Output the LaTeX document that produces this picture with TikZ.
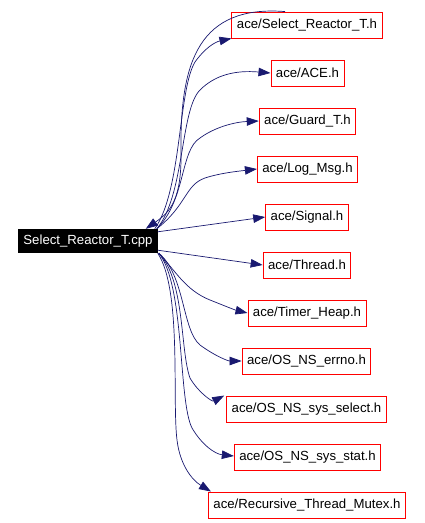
\documentclass[tikz,border=0pt]{standalone}
\usepackage{fontspec}
\setsansfont{Liberation Sans}
\usetikzlibrary{arrows.meta}
\definecolor{edge}{RGB}{25,25,112}
\definecolor{hdr}{RGB}{255,0,0}

\begin{document}
\begin{tikzpicture}[x=1pt, y=-1pt,
    box/.style={draw=hdr, fill=white, line width=0.9pt,
                minimum height=26pt, inner xsep=5pt, inner ysep=0pt,
                font=\sffamily\fontsize{13.2}{15}\selectfont},
    src/.style={fill=black, text=white, minimum height=24pt,
                inner xsep=5pt, inner ysep=0pt,
                font=\sffamily\fontsize{13.2}{15}\selectfont},
    arr/.style={-{Triangle[length=12pt,width=8.5pt]}, edge, line width=0.7pt}]

    \useasboundingbox (0,0) rectangle (424,523);

    % source file
    \node[src] (cpp) at (88,241) {Select\_Reactor\_T.cpp};

    % included headers
    \node[box] (selh)   at (307,25)    {ace/Select\_Reactor\_T.h};
    \node[box] (ace)    at (307.5,73)  {ace/ACE.h};
    \node[box] (guard)  at (307.5,121) {ace/Guard\_T.h};
    \node[box] (logmsg) at (307.5,169) {ace/Log\_Msg.h};
    \node[box] (signal) at (307,217)   {ace/Signal.h};
    \node[box] (thread) at (307,265)   {ace/Thread.h};
    \node[box] (timer)  at (307,313)   {ace/Timer\_Heap.h};
    \node[box] (errno)  at (306.5,361) {ace/OS\_NS\_errno.h};
    \node[box] (select) at (306.5,409) {ace/OS\_NS\_sys\_select.h};
    \node[box] (stat)   at (307.5,457) {ace/OS\_NS\_sys\_stat.h};
    \node[box] (mutex)  at (307,505)   {ace/Recursive\_Thread\_Mutex.h};

    % upward edges
    \draw[arr] ([xshift=-3pt]cpp.north east) .. controls (182,190) and (178,90) .. (195,62)
               .. controls (205,48) and (215,42) .. (selh.south west);
    \draw[arr] ([xshift=-1pt]cpp.north east) .. controls (185,195) and (180,110) .. (200,90)
               .. controls (215,75) and (235,70) .. (ace.west);
    \draw[arr] ([xshift=-1pt]cpp.north east) .. controls (186,200) and (180,150) .. (200,138)
               .. controls (215,127) and (235,122) .. (guard.west);
    \draw[arr] ([xshift=-1pt]cpp.north east) .. controls (187,205) and (185,185) .. (205,178)
               .. controls (220,173) and (240,171) .. (logmsg.west);

    % back edge from the header
    \draw[arr] ([xshift=-22pt]selh.north) .. controls (200,5) and (180,60) .. (181,150)
               .. controls (182,200) and (170,212) .. ([xshift=-12pt]cpp.north east);

    % sideways edges
    \draw[arr] ([yshift=-3pt]cpp.north east) -- (signal.west);
    \draw[arr] ([yshift=3pt]cpp.south east) -- (thread.west);

    % downward edges
    \draw[arr] ([xshift=1pt]cpp.south east) .. controls (175,270) and (185,290) .. (210,300)
               .. controls (225,306) and (235,310) .. (timer.west);
    \draw[arr] ([xshift=1pt]cpp.south east) .. controls (185,275) and (182,330) .. (200,345)
               .. controls (215,356) and (228,361) .. (errno.west);
    \draw[arr] ([xshift=1pt]cpp.south east) .. controls (185,280) and (180,350) .. (190,378)
               .. controls (198,392) and (212,402) .. ([xshift=-2pt]select.north west);
    \draw[arr] ([xshift=1pt]cpp.south east) .. controls (185,285) and (178,400) .. (192,428)
               .. controls (202,445) and (215,454) .. ([yshift=1pt]stat.west);
    \draw[arr] ([xshift=0pt]cpp.south east) .. controls (182,290) and (172,400) .. (177,440)
               .. controls (180,465) and (192,480) .. ([xshift=3pt]mutex.north west);
\end{tikzpicture}
\end{document}
